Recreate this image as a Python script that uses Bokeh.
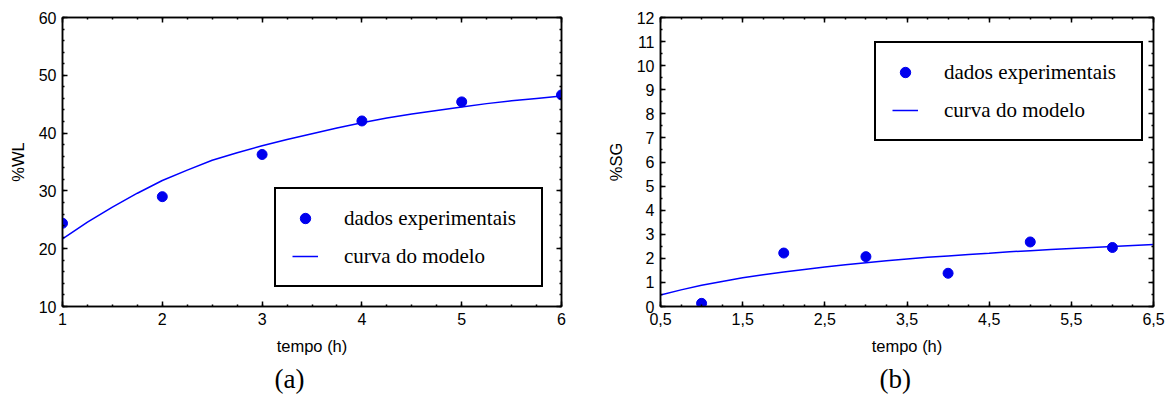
import numpy as np
from bokeh.plotting import figure
from bokeh.layouts import row
from bokeh.models import (Legend, LegendItem, LinearAxis, Title, Range1d,
                          SingleIntervalTicker, FixedTicker, CustomJSTickFormatter)
from bokeh.embed import file_html
from bokeh.resources import INLINE

# ---------------- data ----------------
# panel (a): %WL
t_exp_a = [1, 2, 3, 4, 5, 6]
wl_exp = [24.4, 29.0, 36.3, 42.1, 45.4, 46.6]
t_mod_a = [1.0, 1.25, 1.5, 1.75, 2.0, 2.25, 2.5, 2.75, 3.0, 3.25, 3.5, 3.75,
           4.0, 4.25, 4.5, 4.75, 5.0, 5.25, 5.5, 5.75, 6.0]
wl_mod = [21.7, 24.6, 27.2, 29.6, 31.8, 33.6, 35.3, 36.6, 37.8, 38.9, 39.9, 40.9,
          41.8, 42.6, 43.3, 43.9, 44.5, 45.1, 45.6, 46.0, 46.4]

# panel (b): %SG
t_exp_b = [1, 2, 3, 4, 5, 6]
sg_exp = [0.13, 2.22, 2.07, 1.38, 2.68, 2.45]
t_mod_b = [0.5, 0.75, 1.0, 1.25, 1.5, 1.75, 2.0, 2.25, 2.5, 2.75, 3.0, 3.25, 3.5,
           3.75, 4.0, 4.25, 4.5, 4.75, 5.0, 5.25, 5.5, 5.75, 6.0, 6.25, 6.5]
sg_mod = [0.48, 0.69, 0.88, 1.04, 1.19, 1.32, 1.43, 1.54, 1.64, 1.73, 1.82, 1.90, 1.97,
          2.04, 2.10, 2.16, 2.21, 2.27, 2.32, 2.37, 2.41, 2.45, 2.49, 2.53, 2.57]

x_ticks_b = [0.5, 1.5, 2.5, 3.5, 4.5, 5.5, 6.5]
x_labels_b = ["0,5", "1,5", "2,5", "3,5", "4,5", "5,5", "6,5"]

label_exp = "dados experimentais"
label_mod = "curva do modelo"

SANS = "Liberation Sans"
SERIF = "Liberation Serif"
PT_COLOR = "#0000ee"
LINE_COLOR = "#0000ff"


def style_axis(ax, show_labels=True):
    ax.axis_line_color = "black"
    ax.axis_line_width = 1.5
    ax.major_tick_in = 5
    ax.major_tick_out = 0
    ax.minor_tick_in = 2
    ax.minor_tick_out = 0
    ax.major_tick_line_color = "black"
    ax.minor_tick_line_color = "black"
    ax.major_tick_line_width = 1.5
    ax.minor_tick_line_width = 1.5
    ax.major_label_text_font = SANS
    ax.major_label_text_font_size = "16px"
    ax.major_label_text_color = "black"
    ax.major_label_standoff = 6
    ax.axis_label_text_font = SANS
    ax.axis_label_text_font_size = "16.5px"
    ax.axis_label_text_font_style = "normal"
    ax.axis_label_text_color = "black"
    ax.axis_label_standoff = 9
    if not show_labels:
        ax.formatter = CustomJSTickFormatter(code="return ''")
        ax.major_label_standoff = 0
        ax.major_label_text_font_size = "1px"


def make_panel(width, left, xr, yr, xticker, yticker, ylabel, tx, ty, tm, ym,
               legend_loc, tag, tag_offset, overrides=None):
    p = figure(width=width, height=403, output_backend="svg", toolbar_location=None,
               x_range=Range1d(*xr), y_range=Range1d(*yr),
               min_border_left=left, min_border_right=19,
               min_border_top=17, min_border_bottom=97,
               x_axis_location=None, y_axis_location=None)
    p.grid.visible = False
    p.outline_line_color = "black"
    p.outline_line_width = 1.5
    p.background_fill_color = "white"
    p.border_fill_color = "white"

    xb = LinearAxis(ticker=xticker, axis_label="tempo (h)")
    yl = LinearAxis(ticker=yticker, axis_label=ylabel)
    xt = LinearAxis(ticker=xticker)
    yr_ax = LinearAxis(ticker=yticker)
    style_axis(xb)
    style_axis(yl)
    style_axis(xt, False)
    style_axis(yr_ax, False)
    if overrides:
        xb.major_label_overrides = overrides
    p.add_layout(xb, "below")
    p.add_layout(yl, "left")
    p.add_layout(xt, "above")
    p.add_layout(yr_ax, "right")

    ln = p.line(tm, ym, line_color=LINE_COLOR, line_width=1.5)
    pts = p.scatter(tx, ty, size=10, fill_color=PT_COLOR, line_color=PT_COLOR)

    legend = Legend(items=[LegendItem(label=label_exp, renderers=[pts]),
                           LegendItem(label=label_mod, renderers=[ln])],
                    location=legend_loc, margin=0, padding=16, spacing=12,
                    glyph_width=26, glyph_height=26, label_height=26,
                    label_width=181, label_standoff=26,
                    label_text_font=SERIF, label_text_font_size="21px",
                    label_text_color="black",
                    border_line_color="black", border_line_width=2,
                    border_line_alpha=1.0,
                    background_fill_color="white", background_fill_alpha=1)
    p.add_layout(legend)

    p.add_layout(Title(text=tag, align="left", offset=tag_offset,
                       vertical_align="bottom", standoff=8,
                       text_font=SERIF, text_font_size="27px",
                       text_font_style="normal", text_color="black"), "below")
    return p


pa = make_panel(580, 62, (1, 6), (10, 60),
                SingleIntervalTicker(interval=1, num_minor_ticks=4),
                SingleIntervalTicker(interval=10, num_minor_ticks=5),
                "%WL", t_exp_a, wl_exp, t_mod_a, wl_mod,
                (212, 19), "(a)", 212)

minor_b = list(np.arange(0.5, 6.51, 0.25))
pb = make_panel(592, 80, (0.5, 6.5), (0, 12),
                FixedTicker(ticks=x_ticks_b, minor_ticks=minor_b),
                SingleIntervalTicker(interval=1, num_minor_ticks=2),
                "%SG", t_exp_b, sg_exp, t_mod_b, sg_mod,
                (214, 165), "(b)", 219,
                overrides={t: s for t, s in zip(x_ticks_b, x_labels_b)})

layout = row(pa, pb, spacing=0)
open("out.html", "w").write(file_html(layout, INLINE))
